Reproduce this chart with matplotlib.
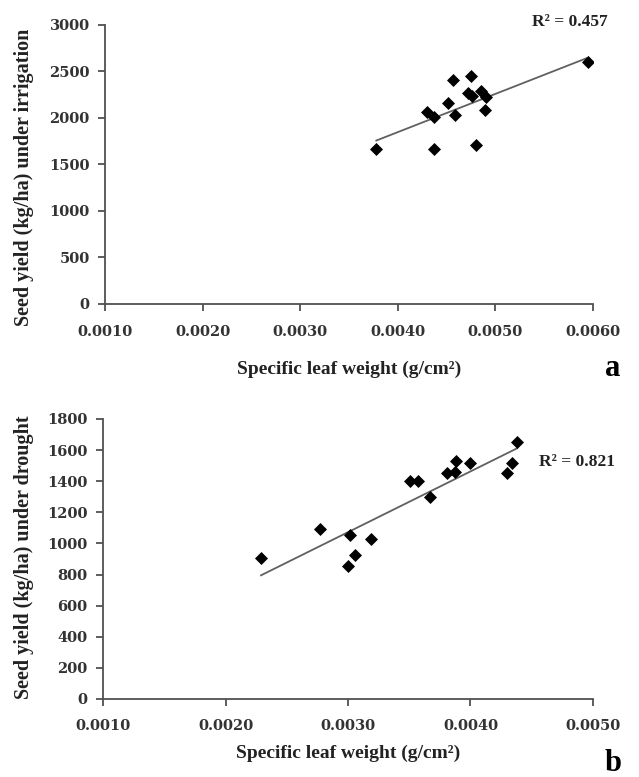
import matplotlib
matplotlib.use("Agg")
import matplotlib.pyplot as plt
import numpy as np

# panel a: irrigation
slw_irr = [0.00378, 0.00437, 0.00480, 0.00430, 0.00437, 0.00451, 0.00459, 0.00457,
           0.00475, 0.00472, 0.00476, 0.00485, 0.00490, 0.00489, 0.00595]
yield_irr = [1669, 1661, 1704, 2061, 2007, 2158, 2036, 2412,
             2454, 2265, 2240, 2294, 2222, 2087, 2597]
r2_irr = "0.457"

# panel b: drought
slw_dr = [0.00229, 0.00277, 0.00302, 0.00319, 0.00306, 0.00300, 0.00351, 0.00357,
          0.00367, 0.00381, 0.00388, 0.00387, 0.00400, 0.00438, 0.00434, 0.00430]
yield_dr = [904, 1091, 1054, 1026, 925, 855, 1401, 1401,
            1300, 1454, 1532, 1461, 1515, 1654, 1515, 1450]
r2_dr = "0.821"

xticks_a = [0.001, 0.002, 0.003, 0.004, 0.005, 0.006]
yticks_a = [0, 500, 1000, 1500, 2000, 2500, 3000]
xticks_b = [0.001, 0.002, 0.003, 0.004, 0.005]
yticks_b = [0, 200, 400, 600, 800, 1000, 1200, 1400, 1600, 1800]

tick_font = dict(family="DejaVu Serif", weight="bold", size=10.5)
lab_font = "Liberation Serif"
spine_col = "#505050"

fig = plt.figure(figsize=(6.39, 7.77), dpi=100)
ax1 = fig.add_axes([0.1643, 0.6088, 0.7637, 0.3591])
ax2 = fig.add_axes([0.1612, 0.1004, 0.7668, 0.3604])


def panel(ax, x, y, xt, yt, ylabel, r2, letter, r2pos, xpad, lpad, ylab_xy):
    ax.scatter(x, y, marker="D", s=44, color="black", zorder=3, linewidths=0)
    k, b = np.polyfit(x, y, 1)
    xs = np.array([min(x), max(x)])
    ax.plot(xs, k * xs + b, color="#606060", lw=1.3, zorder=2)
    ax.set_xlim(xt[0], xt[-1])
    ax.set_ylim(yt[0], yt[-1])
    ax.set_xticks(xt)
    ax.set_yticks(yt)
    ax.set_xticklabels(["%.4f" % v for v in xt], fontdict=tick_font, color="#333333")
    ax.set_yticklabels([str(v) for v in yt], fontdict=tick_font, color="#333333")
    for s in ["top", "right"]:
        ax.spines[s].set_visible(False)
    for s in ["left", "bottom"]:
        ax.spines[s].set_color(spine_col)
        ax.spines[s].set_linewidth(1.3)
    ax.tick_params(direction="out", length=5, width=1.3, color=spine_col, pad=6)
    ax.tick_params(axis="x", pad=xpad)
    ax.set_xlabel("Specific leaf weight (g/cm²)", family=lab_font,
                  weight="bold", size=14, color="#222222", labelpad=lpad)
    ax.set_ylabel(ylabel, family=lab_font, weight="bold", size=14.5,
                  color="#222222")
    ax.yaxis.set_label_coords(*ylab_xy)
    ax.text(r2pos[0], r2pos[1], "R² = " + r2, transform=ax.transAxes,
            family=lab_font, weight="bold", size=12.5, color="#222222",
            ha="left", va="center")
    ax.text(1.04, -0.23, letter, transform=ax.transAxes, family=lab_font,
            weight="bold", size=22, color="black", ha="center", va="center")


panel(ax1, slw_irr, yield_irr, xticks_a, yticks_a,
      "Seed yield (kg/ha) under irrigation", r2_irr, "a", (0.875, 1.01),
      10.5, 15.5, (-0.146, 0.455))
panel(ax2, slw_dr, yield_dr, xticks_b, yticks_b,
      "Seed yield (kg/ha) under drought", r2_dr, "b", (0.89, 0.846),
      9.5, 8, (-0.141, 0.507))

fig.savefig("out.png", dpi=100)
